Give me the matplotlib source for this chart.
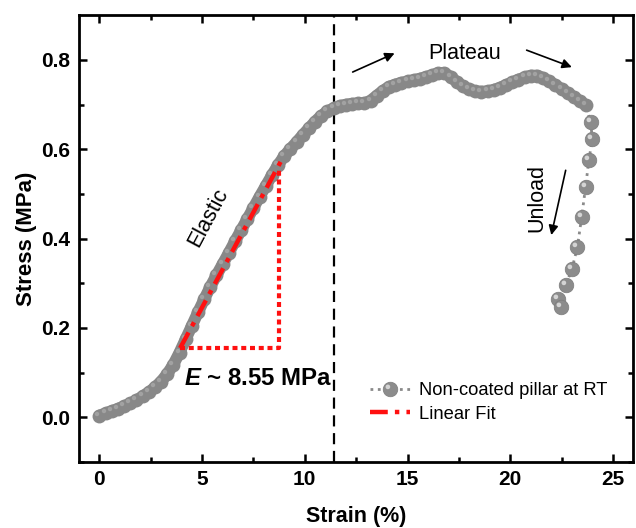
import numpy as np
import matplotlib
matplotlib.use('Agg')
import matplotlib.pyplot as plt
from matplotlib.path import Path
from matplotlib.legend_handler import HandlerTuple

plt.rcParams['font.family'] = ['Liberation Sans', 'DejaVu Sans']
plt.rcParams['mathtext.fontset'] = 'custom'
plt.rcParams['mathtext.rm'] = 'Liberation Sans'
plt.rcParams['mathtext.it'] = 'Liberation Sans:italic'
plt.rcParams['mathtext.bf'] = 'Liberation Sans:bold'
plt.rcParams['mathtext.bfit'] = 'Liberation Sans:italic:bold'

# loading branch (dense points)
strain_load = [0.0, 0.3, 0.6, 0.9, 1.2, 1.5, 1.8, 2.1, 2.4, 2.7, 3.0, 3.3, 3.6, 3.9,
               4.2, 4.5, 4.8, 5.1, 5.4, 5.7, 6.0, 6.3, 6.6, 6.9, 7.2, 7.5, 7.8, 8.1,
               8.4, 8.7, 9.0, 9.3, 9.6, 9.9, 10.2, 10.5, 10.8, 11.1, 11.4, 11.7, 12.0,
               12.3, 12.6, 12.9, 13.2, 13.5, 13.8, 14.1, 14.4, 14.7, 15.0, 15.3, 15.6,
               15.9, 16.2, 16.5, 16.8, 17.1, 17.4, 17.7, 18.0, 18.3, 18.6, 18.9, 19.2,
               19.5, 19.8, 20.1, 20.4, 20.7, 21.0, 21.3, 21.6, 21.9, 22.2, 22.5, 22.8,
               23.1, 23.4, 23.67]
stress_load = [0.004, 0.009, 0.014, 0.019, 0.025, 0.031, 0.038, 0.047, 0.056, 0.067,
               0.080, 0.097, 0.118, 0.145, 0.175, 0.205, 0.235, 0.264, 0.292, 0.318,
               0.343, 0.368, 0.394, 0.419, 0.444, 0.469, 0.494, 0.518, 0.542, 0.565,
               0.585, 0.601, 0.616, 0.632, 0.647, 0.662, 0.675, 0.685, 0.692, 0.697,
               0.700, 0.702, 0.703, 0.703, 0.709, 0.720, 0.731, 0.740, 0.745, 0.749,
               0.752, 0.755, 0.758, 0.762, 0.766, 0.771, 0.771, 0.762, 0.751, 0.741,
               0.734, 0.730, 0.729, 0.730, 0.733, 0.738, 0.744, 0.750, 0.756, 0.761,
               0.765, 0.765, 0.760, 0.752, 0.744, 0.735, 0.726, 0.717, 0.708, 0.699]
# unloading branch (sparse points)
strain_unload = [23.91, 24.0, 23.83, 23.67, 23.48, 23.27, 23.0, 22.7, 22.35, 22.46]
stress_unload = [0.661, 0.624, 0.576, 0.516, 0.449, 0.381, 0.331, 0.296, 0.266, 0.247]

# linear fit and slope triangle
fit_x = [3.93, 8.87]
fit_y = [0.155, 0.576]
tri_x = [3.9, 8.75, 8.75]
tri_y = [0.155, 0.155, 0.56]
yield_strain = 11.4

strain = strain_load + strain_unload
stress = stress_load + stress_unload

# highlight marker for the sphere look
t = np.linspace(0, 2 * np.pi, 30)
verts = np.column_stack([-0.18 + 0.16 * np.cos(t), 0.18 + 0.16 * np.sin(t)])
hl = Path(np.vstack([verts, [[0.5, -0.5]]]),
          [Path.MOVETO] + [Path.LINETO] * 28 + [Path.CLOSEPOLY, Path.MOVETO])

fig = plt.figure(figsize=(6.36, 5.28), dpi=100)
ax = fig.add_axes([0.124, 0.125, 0.872, 0.846])

gray = '#888888'
ax.plot(strain_load, stress_load, '-', color=gray, lw=8.5, zorder=2,
        solid_capstyle='round')
ax.plot(strain_load, stress_load, ls='none', marker='o', ms=10, mfc=gray,
        mec='none', zorder=3)
ax.plot(strain_load, stress_load, ls='none', marker=hl, ms=10, mfc='#a2a2a2',
        mec='none', zorder=3)
l1, = ax.plot(strain, stress, ':', color='#8a8a8a', lw=2, zorder=2)
ax.plot(strain_unload, stress_unload, ls='none', marker='o', ms=10.5,
        mfc='#8c8c8c', mec='#7c7c7c', mew=0.5, zorder=4)
ax.plot(strain_unload, stress_unload, ls='none', marker=hl, ms=10.5,
        mfc='#d4d4d4', mec='none', zorder=4)

# legend handles only
h1 = ax.plot([], [], ':', color='#8a8a8a', lw=2, marker='o', ms=10.5,
             mfc='#8c8c8c', mec='#7c7c7c', mew=0.5)[0]
h2 = ax.plot([], [], ls='none', marker=hl, ms=10.5, mfc='#d4d4d4', mec='none')[0]

ax.plot(tri_x, tri_y, color='#ff1010', lw=3, ls=(0, (1.2, 0.9)), zorder=5)
l3, = ax.plot(fit_x, fit_y, color='#ff1010', lw=3.2, ls=(0, (4, 1.6, 1, 1.6)), zorder=6)

ax.axvline(yield_strain, color='black', lw=1.6, ls=(0, (5, 3)), zorder=1)

ax.text(5.3, 0.448, 'Elastic', rotation=62, fontsize=15.5, ha='center', va='center')
ax.text(17.8, 0.815, 'Plateau', fontsize=15.5, ha='center', va='center')
ax.text(21.3, 0.49, 'Unload', rotation=90, fontsize=15.5, ha='center', va='center')
ax.text(4.1, 0.087, r'$\mathbfit{E}$ ~ 8.55 MPa', fontsize=17.3, fontweight='bold',
        ha='left', va='center')

arrow = dict(arrowstyle='-|>', color='black', lw=1.2, mutation_scale=14,
             shrinkA=0, shrinkB=0)
ax.annotate('', xy=(14.37, 0.815), xytext=(12.33, 0.773), arrowprops=arrow)
ax.annotate('', xy=(23.0, 0.784), xytext=(20.8, 0.822), arrowprops=arrow)
ax.annotate('', xy=(22.0, 0.408), xytext=(22.7, 0.553), arrowprops=arrow)

ax.set_xlim(-1, 26)
ax.set_ylim(-0.1, 0.9)
ax.set_xticks([0, 5, 10, 15, 20, 25])
ax.set_xticks(np.arange(0, 26, 2.5), minor=True)
ax.set_yticks([0.0, 0.2, 0.4, 0.6, 0.8])
ax.set_yticks(np.arange(-0.1, 0.9, 0.1), minor=True)
ax.set_yticklabels(['0.0', '0.2', '0.4', '0.6', '0.8'])
for s in ax.spines.values():
    s.set_linewidth(2)
ax.tick_params(which='both', direction='in', top=True, right=True, width=1.8)
ax.tick_params(which='major', length=6, labelsize=15, pad=6)
ax.tick_params(which='minor', length=3.5)
for lab in ax.get_xticklabels() + ax.get_yticklabels():
    lab.set_fontweight('bold')
ax.set_xlabel('Strain (%)', fontsize=15.5, fontweight='bold', labelpad=12)
ax.set_ylabel('Stress (MPa)', fontsize=16, fontweight='bold', labelpad=3)

ax.legend([(h1, h2), l3], ['Non-coated pillar at RT', 'Linear Fit'],
          handler_map={tuple: HandlerTuple(ndivide=1)},
          loc='upper left', bbox_to_anchor=(0.495, 0.215), frameon=False,
          fontsize=13.2, handlelength=2.2, handletextpad=0.5, labelspacing=0.35)

plt.savefig('out.png', dpi=100)
